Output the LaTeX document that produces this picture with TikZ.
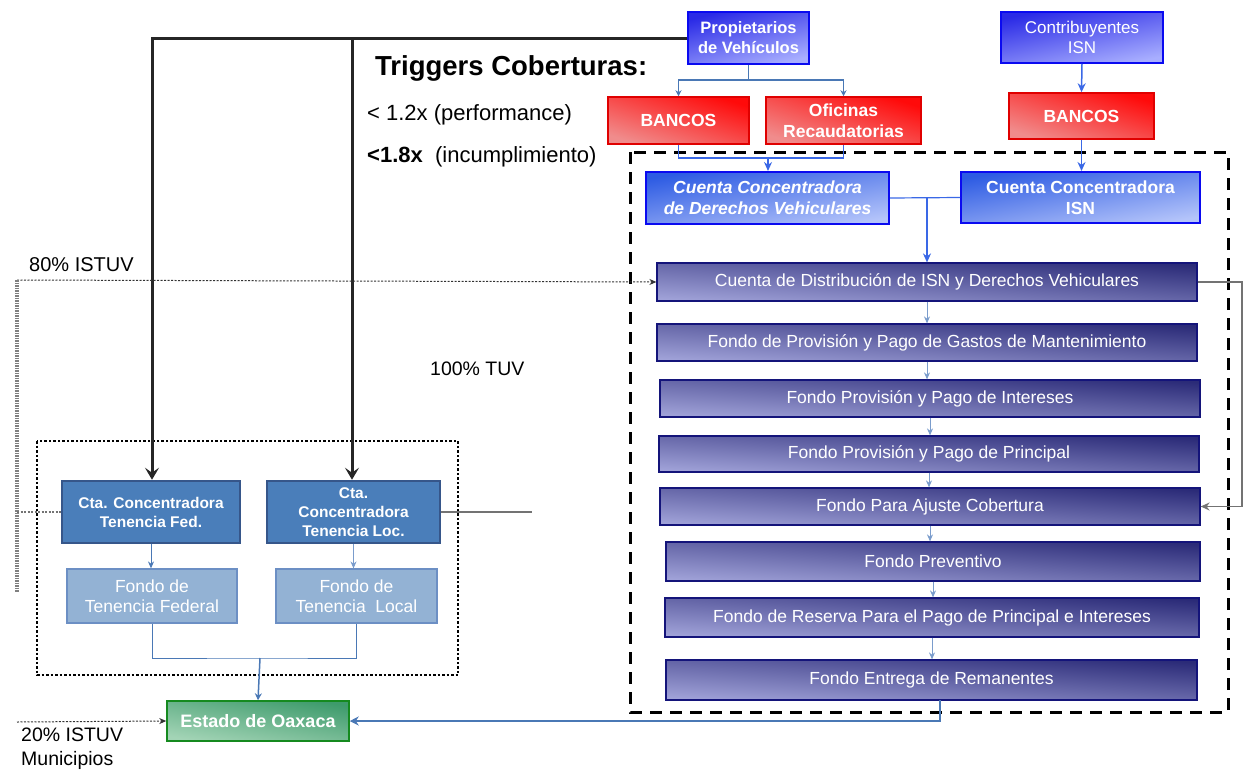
\documentclass[tikz,border=0pt]{standalone}
\usepackage{fontspec}
\setmainfont{Liberation Sans}
\usetikzlibrary{arrows.meta}
\definecolor{blueD}{HTML}{2A2AE6}
\definecolor{blueL}{HTML}{A8AEFF}
\definecolor{blueB}{HTML}{0A0AF0}
\definecolor{ccD}{HTML}{2D5BE3}
\definecolor{ccL}{HTML}{B4C4FA}
\definecolor{redD}{HTML}{FF0A0A}
\definecolor{redL}{HTML}{F08C8C}
\definecolor{redB}{HTML}{E00000}
\definecolor{navyD}{HTML}{2B2B78}
\definecolor{navyL}{HTML}{A0A2D8}
\definecolor{navyB}{HTML}{14147A}
\definecolor{greenD}{HTML}{3E9B6C}
\definecolor{greenL}{HTML}{A3D4B6}
\definecolor{greenB}{HTML}{158A1F}
\definecolor{stBlue}{HTML}{4A7EBA}
\definecolor{stB}{HTML}{36568A}
\definecolor{ltBlue}{HTML}{93B2D4}
\definecolor{ltB}{HTML}{6C8FC4}
\definecolor{lnBlue}{HTML}{4A78B5}
\definecolor{arBlue}{HTML}{3A68E6}
\definecolor{thinBlue}{HTML}{7A9CCC}
\tikzset{
  base/.style={inner sep=0pt, text=white, align=center, line width=1.5pt},
  bluebox/.style={base, draw=blueB, top color=blueD, bottom color=blueL, shading angle=15, font=\fontsize{16.5}{20}\selectfont\bfseries},
  contribbox/.style={base, draw=blueB, top color=blueD, bottom color=blueL, shading angle=12, font=\fontsize{17}{20}\selectfont},
  ccbox/.style={base, draw=blueB, line width=2pt, top color=ccD, bottom color=ccL, shading angle=10, font=\fontsize{17.5}{21}\selectfont\bfseries},
  redbox/.style={base, draw=redB, top color=redD, bottom color=redL, shading angle=-18, font=\fontsize{17.5}{21}\selectfont\bfseries},
  navybox/.style={base, draw=navyB, line width=1.2pt, top color=navyD, bottom color=navyL, shading angle=-4, font=\fontsize{17.5}{20}\selectfont},
  greenbox/.style={base, draw=greenB, top color=greenD, bottom color=greenL, shading angle=-10, font=\fontsize{18}{20}\selectfont\bfseries},
  ctabox/.style={base, draw=stB, line width=2.5pt, fill=stBlue, font=\fontsize{15.5}{19}\selectfont\bfseries},
  fondobox/.style={base, draw=ltB, line width=1.2pt, fill=ltBlue, font=\fontsize{17.5}{20}\selectfont},
  lbl/.style={inner sep=0pt, anchor=west, text=black},
  thickarr/.style={line width=3pt, black!85, -{Stealth[length=12pt,width=14pt,inset=5pt]}},
  thinarr/.style={line width=1pt, thinBlue, -{Stealth[length=7pt,width=6pt]}},
  midarr/.style={line width=1.5pt, arBlue, -{Stealth[length=9pt,width=8pt]}},
}
\begin{document}
\begin{tikzpicture}[x=1pt,y=-1pt]
\useasboundingbox (0,0) rectangle (1243,774);

% containers
\draw[black, line width=3pt, dash pattern=on 12pt off 8pt] (630,152) rectangle (1228,712);
\draw[black, line width=2pt, dash pattern=on 2.5pt off 2pt] (37,441) rectangle (458,675);

% top nodes
\node[bluebox, minimum width=121pt, minimum height=52pt] (prop) at (748.5,38) {Propietarios\\de Vehículos};
\node[contribbox, minimum width=162pt, minimum height=51pt] (contrib) at (1082,37.5) {Contribuyentes\\ISN};
\node[redbox, minimum width=141pt, minimum height=47pt] (ban1) at (678.5,120.5) {BANCOS};
\node[redbox, minimum width=155pt, minimum height=47pt] (ofic) at (843.5,120.5) {Oficinas\\Recaudatorias};
\node[redbox, minimum width=145pt, minimum height=46pt] (ban2) at (1081.5,116) {BANCOS};
\node[ccbox, minimum width=243pt, minimum height=52pt] (ccdv) at (767.5,198) {\itshape Cuenta Concentradora\\\itshape de Derechos Vehiculares};
\node[ccbox, minimum width=239pt, minimum height=51pt] (ccisn) at (1080.5,197.5) {Cuenta Concentradora\\ISN};

% waterfall
\node[navybox, minimum width=540pt, minimum height=38pt] (d1) at (927,282) {Cuenta de Distribución de ISN y Derechos Vehiculares};
\node[navybox, minimum width=540pt, minimum height=37pt] (d2) at (927,342.5) {Fondo de Provisión y Pago de Gastos de Mantenimiento};
\node[navybox, minimum width=540pt, minimum height=37pt] (d3) at (930,398.5) {Fondo Provisión y Pago de Intereses};
\node[navybox, minimum width=540pt, minimum height=36pt] (d4) at (929,454) {Fondo Provisión y Pago de Principal};
\node[navybox, minimum width=540pt, minimum height=37pt] (d5) at (930,506.5) {Fondo Para Ajuste Cobertura};
\node[navybox, minimum width=534pt, minimum height=39pt] (d6) at (933,561.5) {Fondo Preventivo};
\node[navybox, minimum width=534pt, minimum height=39pt] (d7) at (932,617.5) {Fondo de Reserva Para el Pago de Principal e Intereses};
\node[navybox, minimum width=531pt, minimum height=40pt] (d8) at (931.5,680) {Fondo Entrega de Remanentes};

% left side
\node[ctabox, minimum width=178pt, minimum height=62pt] (ctafed) at (151,512) {Cta. Concentradora\\Tenencia Fed.};
\node[ctabox, minimum width=173pt, minimum height=62pt] (ctaloc) at (353.5,512) {Cta.\\Concentradora\\Tenencia Loc.};
\node[fondobox, minimum width=170pt, minimum height=54pt] (ffed) at (152,596) {Fondo de\\Tenencia Federal};
\node[fondobox, minimum width=161pt, minimum height=54pt] (floc) at (356.5,596) {Fondo de\\Tenencia\ \ Local};
\node[greenbox, minimum width=182pt, minimum height=40pt] (estado) at (258,721) {Estado de Oaxaca};

% texts
\node[lbl, font=\fontsize{27.5}{30}\selectfont\bfseries] (trig) at (375,68) {Triggers Coberturas:};
\node[lbl, font=\fontsize{22}{26}\selectfont] (t1) at (367,115) {< 1.2x (performance)};
\node[lbl, font=\fontsize{22}{26}\selectfont] (t2) at (367,157) {\textbf{<1.8x}\ \ (incumplimiento)};
\node[lbl, font=\fontsize{20}{24}\selectfont] (l80) at (29,265) {80\% ISTUV};
\node[lbl, font=\fontsize{19.5}{24}\selectfont] (l100) at (430,369) {100\% TUV};
\node[lbl, font=\fontsize{19.5}{24}\selectfont, align=left, anchor=north west] (l20) at (21,728) {20\% ISTUV\\Municipios};

% coordinates
\coordinate (tl1) at (152,38);
\coordinate (tl2) at (352,38);
\coordinate (pj) at (748.5,80);
\coordinate (bj) at (768,158);
\coordinate (cj) at (927,198);
\coordinate (gr) at (1242,282);
\coordinate (fj) at (260,658);
\coordinate (lft) at (17,280);
\coordinate (lfb) at (17,592);
\coordinate (lfm) at (17,512);
\coordinate (l20s) at (17,722);
\coordinate (locend) at (532,512);
\coordinate (ej) at (940,700);

% black thick connectors
\draw[thickarr] (prop.west) -- (tl1) -- (tl1 |- ctafed.north);
\draw[thickarr] (tl2) -- (tl2 |- ctaloc.north);

% top blue connectors
\draw[line width=1.5pt, lnBlue, -{Stealth[length=6pt,width=6pt]}] (prop.south) -- (pj) -| (ban1.north);
\draw[line width=1.5pt, lnBlue, -{Stealth[length=6pt,width=6pt]}] (pj) -| (ofic.north);
\draw[line width=1.2pt, arBlue] (ban1.south) |- (bj) -| (ofic.south);
\draw[midarr] (bj) -- (bj |- ccdv.north);
\draw[midarr] (contrib.south) -- (ban2.north);
\draw[midarr] (ban2.south) -- (ban2.south |- ccisn.north);
\draw[line width=1.2pt, arBlue] (ccdv.east) -- (ccisn.west);
\draw[midarr] (cj) -- (d1.north);

% waterfall arrows
\draw[thinarr] (d1.south) -- (d1.south |- d2.north);
\draw[thinarr] (d2.south) -- (d2.south |- d3.north);
\draw[thinarr] (d3.south) -- (d3.south |- d4.north);
\draw[thinarr] (d4.south) -- (d4.south |- d5.north);
\draw[thinarr] (d5.south) -- (d5.south |- d6.north);
\draw[thinarr] (d6.south) -- (d6.south |- d7.north);
\draw[thinarr] (d7.south) -- (d7.south |- d8.north);

% grey loop
\draw[line width=1.5pt, black!55, -{Stealth[length=9pt,width=8pt]}] (d1.east) -- (gr) |- (d5.east);

% to Estado
\draw[line width=2.5pt, lnBlue, -{Stealth[length=9pt,width=9pt]}] (ej) |- (estado.east);
\draw[line width=1pt, lnBlue] (ffed.south) |- (fj) -| (floc.south);
\draw[line width=1.5pt, lnBlue, -{Stealth[length=7pt,width=7pt]}] (fj) -- (estado.north);
\draw[thinarr, lnBlue] (ctafed.south) -- (ctafed.south |- ffed.north);
\draw[thinarr] (ctaloc.south) -- (ctaloc.south |- floc.north);
\draw[line width=1.5pt, black!55] (ctaloc.east) -- (locend);

% dotted connectors
\draw[line width=1pt, black!80, dash pattern=on 2pt off 1.5pt, -{Stealth[length=7pt,width=6pt]}] (lft) -- (d1.west);
\draw[line width=3.5pt, black!50, dash pattern=on 1.5pt off 1pt] (lft) -- (lfb);
\draw[line width=1.2pt, black!55, dash pattern=on 2pt off 1.5pt] (lfm) -- (ctafed.west);
\draw[line width=1pt, black!80, dash pattern=on 2pt off 1.5pt, -{Stealth[length=7pt,width=6pt]}] (l20s) -- (estado.west);
\end{tikzpicture}
\end{document}
